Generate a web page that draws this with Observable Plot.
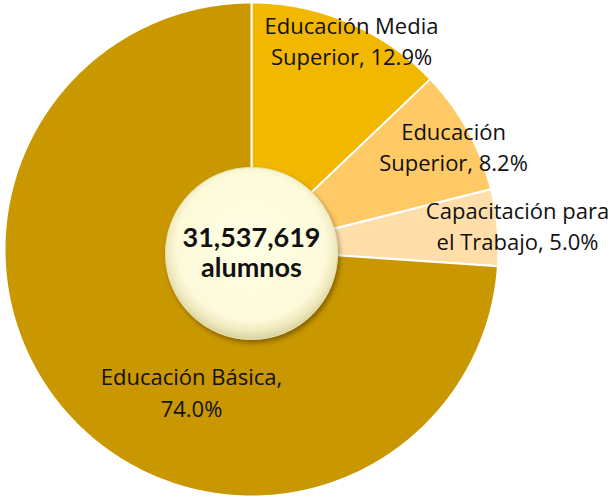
<!DOCTYPE html>
<html>
<head>
<meta charset="utf-8">
<script src="https://cdn.jsdelivr.net/npm/d3@7"></script>
<script src="https://cdn.jsdelivr.net/npm/@observablehq/plot@0.6"></script>
<style>
  html, body { margin: 0; padding: 0; background: #fff; }
</style>
</head>
<body>
<div id="chart"></div>
<script>
// ---- data ----
const categories = ["Educación Media Superior", "Educación Superior", "Capacitación para el Trabajo", "Educación Básica"];
const shares = [12.9, 8.2, 5.0, 74.0];
const labelText = ["Educación Media\nSuperior, 12.9%", "Educación\nSuperior, 8.2%", "Capacitación para\nel Trabajo, 5.0%", "Educación Básica,\n74.0%"];
const totalLabel = ["31,537,619", "alumnos"];

// ---- styles / layout ----
const colors = ["#F2B700", "#FFC966", "#FFDEAA", "#C99700"];
const labelPos = [[0.405, 0.850], [0.818, 0.421], [1.077, 0.101], [-0.243, -0.573]];

const W = 608, H = 498, cx = 251, cy = 249, R = 247;
const pie = d3.pie().sort(null).value(d => d)(shares);

const pts = [];
pie.forEach((a, i) => {
  const n = Math.max(2, Math.ceil((a.endAngle - a.startAngle) / (Math.PI / 360)));
  pts.push({cat: categories[i], x: 0, y: 0});
  for (let k = 0; k <= n; k++) {
    const t = a.startAngle + (a.endAngle - a.startAngle) * k / n;
    pts.push({cat: categories[i], x: Math.sin(t), y: Math.cos(t)});
  }
  pts.push({cat: categories[i], x: 0, y: 0});
});

const labels = categories.map((c, i) => ({cat: c, text: labelText[i], x: labelPos[i][0], y: labelPos[i][1]}));

const chart = Plot.plot({
  width: W, height: H,
  margin: 0,
  x: {domain: [-cx / R, (W - cx) / R], axis: null},
  y: {domain: [-(H - cy) / R, cy / R], axis: null},
  color: {domain: categories, range: colors},
  style: {fontFamily: "'Open Sans', sans-serif", background: "#fff"},
  marks: [
    Plot.line(pts, {x: "x", y: "y", z: "cat", fill: "cat", stroke: "white", strokeWidth: 2, curve: "linear-closed"}),
    Plot.dot([{x: 0, y: -0.016}], {x: "x", y: "y", r: 86, fill: "url(#cg)", stroke: "#E9E3B4", strokeWidth: 1, className: "hub"}),
    Plot.text(labels, {x: "x", y: "y", text: "text", fontSize: 22, lineHeight: 1.42, fill: "#111", textAnchor: "middle"}),
    Plot.text([totalLabel.join("\n")], {x: () => 0, y: () => -0.012, text: d => d, fontSize: 27, fontWeight: "bold", lineHeight: 1.13, fill: "#111", fontFamily: "Lato, sans-serif"})
  ]
});

const svg = d3.select(chart);
const defs = svg.insert("defs", ":first-child");
const g = defs.append("radialGradient").attr("id", "cg").attr("cx", "50%").attr("cy", "46%").attr("r", "54%");
g.append("stop").attr("offset", "0%").attr("stop-color", "#FFFFE4");
g.append("stop").attr("offset", "80%").attr("stop-color", "#FDFADA");
g.append("stop").attr("offset", "91%").attr("stop-color", "#EFE9BE");
g.append("stop").attr("offset", "100%").attr("stop-color", "#D8D1A0");
const f = defs.append("filter").attr("id", "sh").attr("x", "-20%").attr("y", "-20%").attr("width", "140%").attr("height", "140%");
f.append("feDropShadow").attr("dx", 2).attr("dy", 3).attr("stdDeviation", 2.5).attr("flood-color", "#000").attr("flood-opacity", 0.35);
svg.selectAll(".hub circle").attr("filter", "url(#sh)");

document.getElementById("chart").appendChild(chart);
</script>
</body>
</html>
